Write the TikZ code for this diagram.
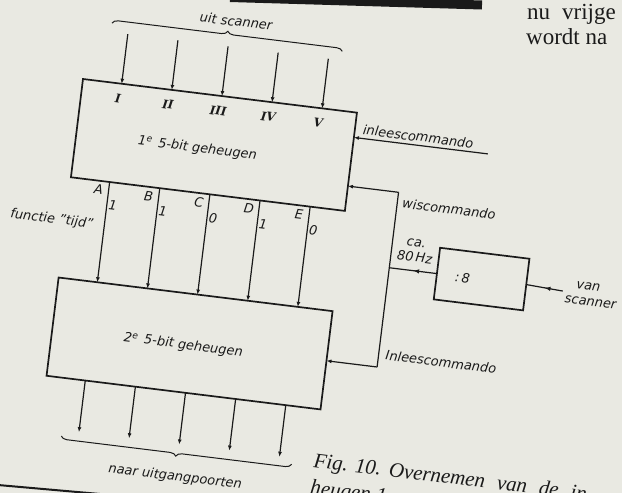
\documentclass[tikz,border=0pt]{standalone}
\usepackage{fontspec}
\setmainfont{DejaVu Sans}
\newfontfamily\numeralfont{DejaVu Serif}
\newfontfamily\bodyserif{Liberation Serif}
\usetikzlibrary{arrows.meta,calc,decorations.pathreplacing,decorations.markings}
\definecolor{paper}{RGB}{233,233,226}
\definecolor{ink}{RGB}{26,26,26}
\newcommand\diaglabel{\fontsize{13}{15}\selectfont\itshape}
\begin{document}
\begin{tikzpicture}[x=1pt,y=-1pt,
  every node/.style={text=ink,font=\diaglabel,inner sep=1pt},
  memory/.style={draw=ink,line width=1.7pt,minimum width=276pt,minimum height=99pt,
                 inner sep=0pt,outer sep=0pt,anchor=north west},
  divbox/.style={draw=ink,line width=1.7pt,minimum width=90pt,minimum height=52pt,
                 inner sep=0pt,outer sep=0pt},
  wire/.style={draw=ink,line width=1.2pt},
  tip/.style={wire,-{Latex[length=5pt,width=4pt]}},
  midtip/.style={wire,postaction={decorate},
    decoration={markings,mark=at position 0.5 with {\arrow{Latex[length=6pt,width=4.5pt]}}}},
  brace/.style={wire,line width=1pt,decorate,decoration={brace,amplitude=6pt}},
  numeral/.style={font=\numeralfont\itshape\bfseries\fontsize{12}{14}\selectfont},
  bodytext/.style={font=\bodyserif\fontsize{23}{25}\selectfont,inner sep=0pt,anchor=base west},
  captext/.style={font=\bodyserif\itshape\fontsize{21}{24}\selectfont,inner sep=0pt,anchor=base west}]

% paper
\fill[paper] (0,0) rectangle (622,493);
\clip (0,0) rectangle (622,493);

% page furniture
\draw[ink,line width=9pt] (230,-2.5) -- (482,5);
\draw[ink,line width=2pt] (-2,485) -- (100,494);
\node[bodytext] (body1) at (527,19) {nu\hspace{12pt}vrijge};
\node[bodytext] (body2) at (526,44) {wordt na};
\begin{scope}[shift={(313,467)},rotate=-7,transform shape]
  \node[captext] (cap1) at (0,0) {Fig. 10.\hspace{8pt}Overnemen\hspace{12pt}van\hspace{12pt}de\hspace{12pt}in};
  \node[captext] (cap2) at (0,27) {heugen 1};
\end{scope}

% the circuit
\begin{scope}[shift={(83,79)},rotate=-7,transform shape]
  \node[memory] (m1) at (0,0) {};
  \node[memory] (m2) at (0,200) {};
  \node (m1txt) at (122,55) {1\textsuperscript{e}\hspace{6pt}5-bit geheugen};
  \node (m2txt) at (132,252) {2\textsuperscript{e}\hspace{6pt}5-bit geheugen};

  \foreach \u/\r/\L/\v [count=\i] in {39/I/A/1,89.5/II/B/1,140/III/C/0,190.5/IV/D/1,241/V/E/0} {
    \coordinate (src\i) at (\u,-50);
    \coordinate (dst\i) at (\u,351);
    \draw[tip] (src\i) -- ($(m1.north west)!{\u/276}!(m1.north east)$);
    \draw[tip] ($(m1.south west)!{\u/276}!(m1.south east)$) -- ($(m2.north west)!{\u/276}!(m2.north east)$);
    \draw[tip] ($(m2.south west)!{\u/276}!(m2.south east)$) -- (dst\i);
    \node[numeral] (rom\i) at (\u-2,15) {\r};
    \node (bit\i) at (\u-10,108) {\L};
    \node (val\i) at (\u+6,122) {\v};
  }

  \draw[brace] (22,-59) -- (254,-59);
  \node (scan) at (145,-76) {uit scanner};
  \draw[brace] (254,357) -- (22,357);
  \node (outs) at (140,384) {naar uitgangpoorten};
  \node (func) at (-14,143) {functie "tijd"};

  % load command of the first memory
  \coordinate (r1) at (411,25);
  \draw[tip] (r1) -- ($(m1.north east)!{25/99}!(m1.south east)$);
  \node[anchor=base west] (load1) at (283,21) {inleescommando};

  % clear / load distribution
  \coordinate (cw) at (327,74);
  \coordinate (cr) at (327,250);
  \coordinate (j) at (327,150);
  \draw[tip] (cw) -- ($(m1.north east)!{74/99}!(m1.south east)$);
  \draw[wire] (cw) -- (cr);
  \draw[tip] (cr) -- ($(m2.north east)!{50/99}!(m2.south east)$);
  \node[anchor=base west] (clr) at (331,89) {wiscommando};
  \node[anchor=base west] (load2) at (333,242) {Inleescommando};

  % divider
  \node[divbox] (div) at (420,150) {};
  \node (divtxt) at (401,151) {:\,8};
  \draw[midtip] (div.west) -- (j);
  \node[align=center] (freq) at (351,130) {ca.\\80\,Hz};
  \node (vs1) at (527,144.5) {van};
  \node (vs2) at (531,160) {scanner};
  \coordinate (vsin) at (502,152);
  \draw[midtip] (vsin) -- (div.east);
\end{scope}
\end{tikzpicture}
\end{document}
